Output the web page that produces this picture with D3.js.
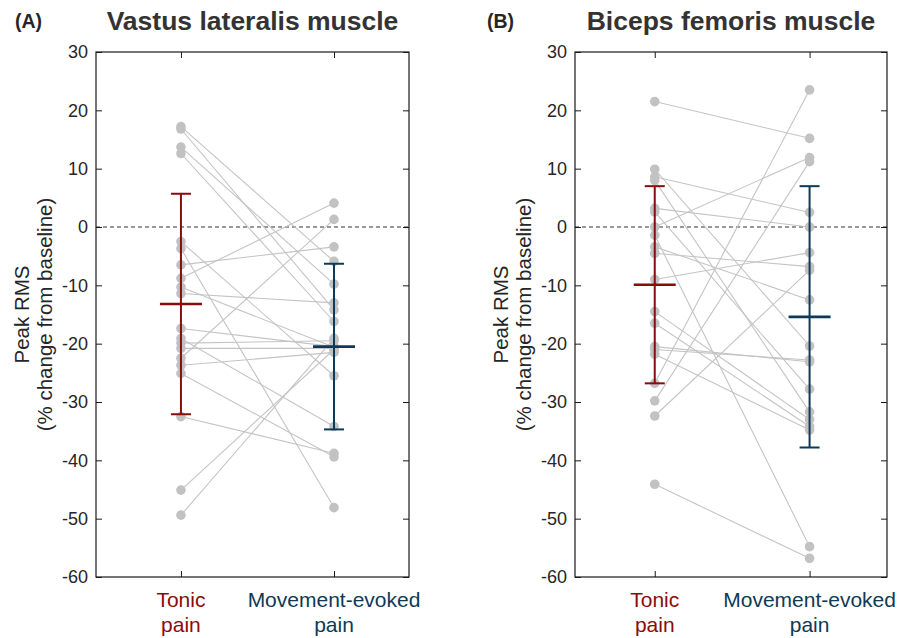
<!DOCTYPE html>
<html>
<head>
<meta charset="utf-8">
<script src="https://cdn.jsdelivr.net/npm/d3@7"></script>
<style>
  body { margin: 0; background: #fff; }
  svg { font-family: "Liberation Sans", Arial, sans-serif; }
</style>
</head>
<body>
<svg id="chart" width="909" height="638"></svg>
<script>
// Categories and ticks
const conditions = ['Tonic pain', 'Movement-evoked pain'];
const yTicks = [30, 20, 10, 0, -10, -20, -30, -40, -50, -60];

// Panel A: vastus lateralis, paired values (% change from baseline)
const vlTonic = [17.2, 16.8, 13.7, 12.6, -2.5, -3.7, -6.5, -8.8, -10.3, -11.4,
  -17.4, -19.1, -19.9, -20.8, -22.5, -23.7, -25.1, -32.5, -45.1, -49.4];
const vlMovement = [-5.9, -14.2, -9.8, -16.2, -25.5, -48.1, -3.4, 4.1, -20.6, -13.0,
  -20.5, -34.2, -19.5, -20.8, 1.3, -21.5, -39.4, -38.8, -21.0, -19.1];
const vlMean = [-13.2, -20.5];
const vlSd = [18.9, 14.2];

// Panel B: biceps femoris
const bfTonic = [21.5, 9.9, 8.6, 8.0, 3.2, 2.6, 0.0, -1.4, -3.4, -4.5,
  -9.0, -14.5, -16.5, -20.5, -21.0, -21.8, -26.8, -29.8, -32.4, -44.1];
const bfMovement = [15.2, -20.4, 2.5, -31.7, 0.0, -27.8, 11.9, -54.8, -12.5, -6.8,
  -4.4, -33.0, -34.2, -23.1, -22.8, -34.8, 23.5, 11.2, -7.4, -56.8];
const bfMean = [-9.9, -15.4];
const bfSd = [16.9, 22.4];

const svg = d3.select('#chart');
const condColors = ['#8b0b0b', '#0e3a56'];
const textColor = '#262626';

const panels = [
  { tag: '(A)', tagX: 15, title: 'Vastus lateralis muscle', tonic: vlTonic, move: vlMovement,
    mean: vlMean, sd: vlSd, left: 96, right: 409, xlim: [0.445, 2.49] },
  { tag: '(B)', tagX: 487, title: 'Biceps femoris muscle', tonic: bfTonic, move: bfMovement,
    mean: bfMean, sd: bfSd, left: 575, right: 887, xlim: [0.485, 2.5] }
];
const plotTop = 52, plotBottom = 577;

panels.forEach(p => {
  const g = svg.append('g');
  const x = d3.scaleLinear().domain(p.xlim).range([p.left, p.right]);
  const y = d3.scaleLinear().domain([-60, 30]).range([plotBottom, plotTop]);
  const cx = (p.left + p.right) / 2;

  // titles
  g.append('text').attr('x', p.tagX).attr('y', 28)
    .attr('font-size', 19.5).attr('font-weight', 'bold').attr('fill', textColor)
    .text(p.tag);
  g.append('text').attr('x', cx).attr('y', 30).attr('text-anchor', 'middle')
    .attr('font-size', 26.5).attr('font-weight', 'bold').attr('fill', '#333')
    .text(p.title);

  // zero line
  g.append('line').attr('x1', p.left).attr('x2', p.right)
    .attr('y1', y(0)).attr('y2', y(0))
    .attr('stroke', '#333').attr('stroke-width', 1.2).attr('stroke-dasharray', '4,3');

  // paired lines
  const pairs = p.tonic.map((v, i) => [v, p.move[i]]);
  g.selectAll('.pair').data(pairs).enter().append('line')
    .attr('x1', x(1)).attr('x2', x(2))
    .attr('y1', d => y(d[0])).attr('y2', d => y(d[1]))
    .attr('stroke', '#c4c4c4').attr('stroke-width', 1.1);

  // points
  [p.tonic, p.move].forEach((vals, ci) => {
    g.selectAll('.pt' + ci).data(vals).enter().append('circle')
      .attr('cx', x(ci + 1)).attr('cy', d => y(d)).attr('r', 4.8)
      .attr('fill', '#c2c2c2');
  });

  // error bars (mean +/- sd)
  p.mean.forEach((m, ci) => {
    const xc = x(ci + 1), col = condColors[ci];
    const eb = g.append('g').attr('stroke', col).attr('stroke-width', 2);
    eb.append('line').attr('x1', xc).attr('x2', xc)
      .attr('y1', y(m + p.sd[ci])).attr('y2', y(m - p.sd[ci]));
    [m + p.sd[ci], m - p.sd[ci]].forEach(v => {
      eb.append('line').attr('x1', xc - 10).attr('x2', xc + 10)
        .attr('y1', y(v)).attr('y2', y(v));
    });
    eb.append('line').attr('x1', xc - 21).attr('x2', xc + 21)
      .attr('y1', y(m)).attr('y2', y(m)).attr('stroke-width', 2.6);
  });

  // axes box
  g.append('rect').attr('x', p.left).attr('y', plotTop)
    .attr('width', p.right - p.left).attr('height', plotBottom - plotTop)
    .attr('fill', 'none').attr('stroke', '#1a1a1a').attr('stroke-width', 1.2);

  const yAxis = d3.axisLeft(y).tickValues(yTicks).tickSize(-6).tickPadding(8)
    .tickFormat(d => String(d));
  const ya = g.append('g').attr('transform', `translate(${p.left},0)`).call(yAxis);
  ya.select('.domain').remove();
  ya.selectAll('line').attr('stroke', '#1a1a1a');
  ya.selectAll('text').attr('font-size', 18).attr('fill', textColor)
    .attr('font-family', '"Liberation Sans", Arial, sans-serif');
  // mirrored ticks on right
  g.append('g').attr('transform', `translate(${p.right},0)`)
    .call(d3.axisRight(y).tickValues(yTicks).tickSize(-6).tickFormat(''))
    .call(a => a.select('.domain').remove())
    .selectAll('line').attr('stroke', '#1a1a1a');

  const xAxis = d3.axisBottom(x).tickValues([1, 2]).tickSize(-6).tickFormat('');
  g.append('g').attr('transform', `translate(0,${plotBottom})`).call(xAxis)
    .call(a => a.select('.domain').remove())
    .selectAll('line').attr('stroke', '#1a1a1a');
  g.append('g').attr('transform', `translate(0,${plotTop})`)
    .call(d3.axisTop(x).tickValues([1, 2]).tickSize(-6).tickFormat(''))
    .call(a => a.select('.domain').remove())
    .selectAll('line').attr('stroke', '#1a1a1a');

  // category labels in two lines
  conditions.forEach((c, ci) => {
    const words = ci === 0 ? ['Tonic', 'pain'] : ['Movement-evoked', 'pain'];
    const t = g.append('text').attr('text-anchor', 'middle')
      .attr('fill', condColors[ci]).attr('font-size', 21);
    words.forEach((w, wi) => {
      t.append('tspan').attr('x', x(ci + 1)).attr('y', 607 + wi * 25).text(w);
    });
  });

  // y label
  const yl = g.append('text').attr('text-anchor', 'middle').attr('fill', textColor)
    .attr('font-size', 20.5)
    .attr('transform', `translate(${p.left - 67},${(plotTop + plotBottom) / 2}) rotate(-90)`);
  yl.append('tspan').attr('x', 0).attr('y', 0).text('Peak RMS');
  yl.append('tspan').attr('x', 0).attr('y', 23).text('(% change from baseline)');
});
</script>
</body>
</html>
